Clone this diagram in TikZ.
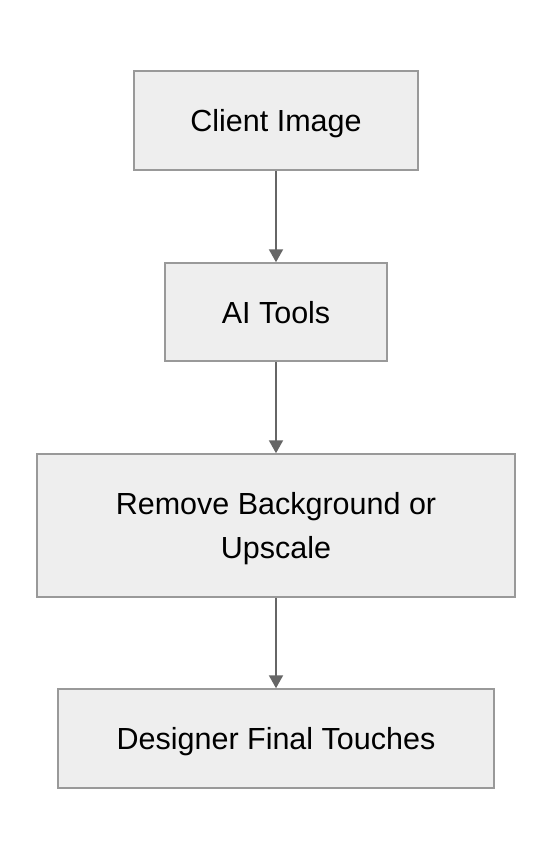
\documentclass[tikz,border=0pt]{standalone}
\usepackage{fontspec}
\setmainfont{Liberation Sans}
\usetikzlibrary{arrows.meta}
\definecolor{boxfill}{HTML}{EEEEEE}
\definecolor{boxline}{HTML}{999999}
\definecolor{arrowcol}{HTML}{666666}
\tikzset{
  flowbox/.style={draw=boxline, fill=boxfill, line width=1.5pt, rectangle, inner sep=0pt,
    font=\fontsize{30.5}{44}\selectfont, align=center, text=black, text height=22pt, text depth=0pt},
  flowarrow/.style={draw=arrowcol, line width=2pt, -{Triangle[length=13pt,width=14pt]}}
}
\begin{document}
\begin{tikzpicture}[x=1pt,y=-1pt]
\useasboundingbox (0,0) rectangle (552,860);
\node[flowbox, minimum width=284pt, minimum height=99pt] (a) at (276,120.5) {Client Image};
\node[flowbox, minimum width=222pt, minimum height=98pt] (b) at (276,312) {AI Tools};
\node[flowbox, minimum width=478pt, minimum height=143pt, text height=66pt] (c) at (276,525.5) {Remove Background or\\Upscale};
\node[flowbox, minimum width=436pt, minimum height=99pt] (d) at (276,738.5) {Designer Final Touches};
\draw[flowarrow] (a) -- (b);
\draw[flowarrow] (b) -- (c);
\draw[flowarrow] (c) -- (d);
\end{tikzpicture}
\end{document}
